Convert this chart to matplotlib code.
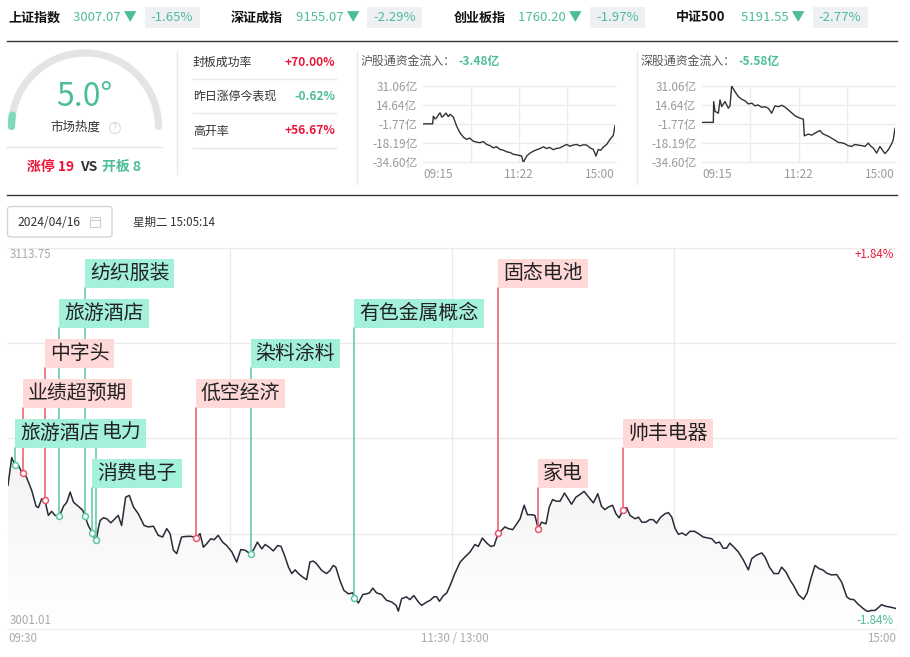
import matplotlib
matplotlib.use('Agg')
import matplotlib.pyplot as plt
import numpy as np
from matplotlib.patches import Rectangle, FancyBboxPatch, Circle
from matplotlib.colors import LinearSegmentedColormap

plt.rcParams['font.family'] = ['Noto Sans CJK SC', 'DejaVu Sans']

W, H = 910, 657
RED = '#e8173a'
GREEN = '#4cbd97'
LIGHT = '#a9a9a9'

# ---- header data ----
index_names = ['上证指数', '深证成指', '创业板指', '中证500']
index_values = [3007.07, 9155.07, 1760.20, 5191.55]
index_changes = [-1.65, -2.29, -1.97, -2.77]

heat_value = 5.0
limit_up = 19
broken = 8
stat_names = ['封板成功率', '昨日涨停今表现', '高开率']
stat_values = [70.00, -0.62, 56.67]

flow_titles = ['沪股通资金流入：', '深股通资金流入：']
flow_totals = [-3.48, -5.58]
flow_ticks = [31.06, 14.64, -1.77, -18.19, -34.60]
flow_time_labels = ['09:15', '11:22', '15:00']

sh_minutes = [0, 12.8, 13.7, 16, 18.2, 20.5, 22.6, 25, 27.0, 30.5,
              33.6, 35.9, 40.3, 44.7, 49.1, 53.6, 58.0, 62, 66.8, 71,
              75.7, 80, 84.6, 89, 93.4, 98, 102.3, 107, 111.1, 116,
              120.0, 125, 131.0, 133.2, 137.7, 142, 146.5, 151, 155.4, 160,
              164.2, 168, 173.1, 177, 181.9, 186, 190.8, 195, 199.6, 204,
              208.5, 213, 217.4, 221.8, 226.2, 229.7, 232.8, 236, 239.4, 243.9,
              248.3, 252.7, 255]
sh_flow = [-1.77, -1.77, 4.8, 2.5, 3.5, 6.0, 7.7, 4.0, 5.0, 7.5,
           4.5, 6.5, 4.0, -3.8, -9.5, -13.2, -15.2, -14.0, -16.7, -17.5,
           -18.0, -17.0, -19.5, -20.5, -22.4, -21.5, -23.8, -24.5, -25.8, -26.5,
           -28.0, -28.5, -29.5, -35.0, -29.5, -27.0, -25.3, -24.0, -23.0, -21.5,
           -23.0, -22.0, -24.0, -23.0, -22.4, -21.0, -19.5, -21.0, -20.0, -19.5,
           -20.7, -19.8, -20.0, -22.4, -23.8, -29.5, -23.8, -24.5, -21.8, -19.5,
           -15.2, -11.8, -3.48]

sz_minutes = [0, 15.0, 15.4, 17.2, 21.6, 23.8, 26.0, 30.4, 34.8, 37.0,
              39.2, 43.6, 48.0, 52.4, 57, 61.2, 66, 70.0, 74, 78.8,
              83, 87.6, 92.0, 96.4, 101, 105.3, 110, 114.1, 118, 122.9,
              128, 133.9, 135.2, 140.5, 145, 149.3, 155.9, 159, 162.5, 167,
              171.3, 176, 180.1, 184, 188.9, 193, 197.8, 202, 206.6, 211,
              215.4, 219.7, 223, 226.3, 230.8, 235.1, 238, 241.7, 246.1, 250.6,
              252.7, 255]
sz_flow = [-0.5, -0.5, 17.4, 9.0, 7.4, 18.8, 13.1, 17.4, 11.7, 13.7,
           30.8, 25.9, 21.7, 19.4, 18.0, 15.4, 16.0, 13.7, 14.5, 12.5,
           13.0, 11.7, 7.4, 13.7, 13.0, 14.2, 12.5, 10.2, 8.0, 5.1,
           3.5, 2.2, -12.1, -10.6, -11.5, -9.8, -7.5, -10.0, -11.2, -12.5,
           -14.1, -16.0, -17.8, -18.0, -18.9, -20.5, -21.2, -19.5, -20.1, -20.5,
           -21.2, -18.3, -21.0, -22.6, -26.9, -21.2, -24.0, -27.4, -24.1, -18.9,
           -15.5, -5.58]

# ---- main intraday chart data ----
trade_date = '2024/04/16'
trade_weekday_time = '星期二 15:05:14'
price_hi, price_lo = 3113.75, 3001.01
prev_close = 3057.38
main_time_labels = ['09:30', '11:30 / 13:00', '15:00']

main_minutes = [0, 1.0, 1.9, 2.8, 3.7, 5.0, 6.4, 7.6, 8.2, 9.1,
                10.0, 10.9, 11.8, 12.7, 13.9, 15.0, 15.9, 16.8, 17.7, 19.0,
                20.2, 20.8, 21.7, 22.9, 23.8, 24.4, 24.9, 25.8, 26.7, 27.8,
                28.9, 29.8, 30.7, 31.8, 32.8, 33.9, 35.2, 36.8, 37.9, 39.3,
                40.6, 41.8, 42.9, 43.8, 44.7, 45.6, 46.9, 48.3, 49.6, 50.8,
                51.9, 52.8, 53.7, 54.8, 55.7, 56.8, 58.0, 59.1, 60.5, 61.8,
                62.9, 64.1, 65.6, 66.5, 67.4, 68.6, 69.5, 70.6, 71.7, 72.9,
                73.8, 74.9, 75.8, 76.7, 77.6, 78.5, 79.6, 80.7, 81.6, 82.5,
                83.4, 84.8, 86.1, 87.0, 87.9, 88.6, 89.7, 90.8, 92.0, 93.2,
                93.6, 94.7, 95.9, 96.9, 97.7, 98.6, 99.6, 101.0, 102.3, 103.7,
                104.9, 105.5, 106.4, 107.7, 108.6, 109.7, 110.9, 111.8, 113.2, 114.1,
                115.2, 115.9, 116.6, 117.7, 118.6, 119.5, 120.8, 122.2, 123.5, 124.9,
                126.2, 127.1, 128.2, 129.4, 130.5, 131.4, 132.5, 133.4, 134.3, 135.2,
                136.4, 137.5, 138.4, 139.5, 140.4, 141.5, 142.4, 143.3, 144.2, 145.4,
                146.3, 147.2, 148.1, 149.2, 150.4, 151.4, 152.3, 153.5, 154.6, 155.7,
                156.8, 158.2, 159.4, 160.4, 161.3, 162.3, 163.4, 164.3, 165.2, 166.3,
                167.2, 168.1, 169.5, 170.4, 171.3, 172.4, 173.5, 174.4, 175.3, 176.4,
                177.6, 178.5, 179.4, 180.3, 181.2, 182.2, 183.2, 184.3, 185.5, 186.6,
                187.9, 189.3, 190.2, 191.3, 192.3, 193.3, 194.2, 195.1, 196.2, 197.4,
                198.7, 200.1, 201.0, 202.2, 203.7, 204.6, 205.8, 207.0, 208.2, 209.1,
                210.3, 211.4, 212.3, 213.6, 215.0, 216.0, 217.0, 218.1, 219.3, 220.2,
                221.3, 222.6, 224.0, 225.3, 226.7, 227.6, 228.6, 229.8, 231.2, 232.3,
                233.4, 234.3, 235.2, 236.1, 237.3, 238.4, 240]
main_price = [3043.5, 3051.7, 3049.4, 3049.4, 3047.4, 3045.9, 3042.0, 3037.3, 3036.9, 3039.5,
              3039.0, 3034.6, 3035.8, 3034.6, 3034.4, 3037.3, 3038.5, 3041.5, 3038.5, 3037.3,
              3036.1, 3034.4, 3031.6, 3029.2, 3026.7, 3030.7, 3033.1, 3033.9, 3033.6, 3032.4,
              3033.6, 3034.6, 3031.6, 3040.0, 3040.5, 3037.1, 3035.1, 3031.6, 3031.2, 3031.4,
              3028.7, 3028.2, 3030.7, 3029.2, 3024.3, 3023.3, 3028.2, 3028.4, 3028.4, 3027.9,
              3029.2, 3025.2, 3026.2, 3027.7, 3027.4, 3028.7, 3026.7, 3025.7, 3023.8, 3020.8,
              3024.5, 3024.3, 3023.1, 3024.7, 3026.7, 3024.7, 3026.0, 3025.2, 3024.1, 3025.7,
              3025.4, 3022.3, 3019.3, 3017.4, 3018.5, 3017.4, 3016.4, 3015.6, 3020.8, 3021.1,
              3020.3, 3018.3, 3017.4, 3018.3, 3019.8, 3019.3, 3015.4, 3012.4, 3011.4, 3011.7,
              3010.2, 3008.7, 3011.2, 3011.4, 3011.7, 3013.1, 3011.7, 3011.2, 3009.5, 3009.0,
              3008.0, 3006.3, 3010.0, 3010.5, 3009.7, 3010.9, 3009.0, 3008.0, 3009.0, 3009.5,
              3010.6, 3010.5, 3009.2, 3010.9, 3011.7, 3013.9, 3017.5, 3020.8, 3022.3, 3023.8,
              3026.0, 3025.4, 3027.9, 3026.4, 3025.4, 3025.7, 3029.4, 3030.2, 3031.2, 3030.7,
              3030.4, 3032.1, 3033.6, 3037.6, 3034.8, 3034.8, 3034.6, 3030.7, 3032.6, 3032.1,
              3037.1, 3039.3, 3038.8, 3038.8, 3041.2, 3039.5, 3037.9, 3040.0, 3040.8, 3041.7,
              3040.2, 3038.3, 3041.0, 3037.3, 3036.3, 3037.1, 3037.6, 3035.1, 3033.9, 3036.3,
              3036.9, 3034.6, 3033.6, 3034.1, 3032.6, 3032.6, 3033.4, 3033.3, 3032.3, 3034.1,
              3035.1, 3035.4, 3034.1, 3030.7, 3029.0, 3029.4, 3028.7, 3029.9, 3029.9, 3029.2,
              3028.2, 3027.9, 3027.7, 3026.4, 3026.7, 3024.9, 3024.9, 3026.4, 3025.2, 3023.8,
              3021.5, 3018.5, 3021.8, 3022.8, 3023.5, 3022.3, 3019.3, 3017.4, 3017.4, 3019.3,
              3017.8, 3015.4, 3013.9, 3011.2, 3009.8, 3011.7, 3015.9, 3019.8, 3018.8, 3018.5,
              3017.5, 3017.0, 3017.1, 3014.9, 3010.5, 3009.8, 3009.7, 3008.3, 3007.0, 3006.2,
              3006.5, 3006.5, 3007.3, 3008.2, 3007.7, 3007.5, 3007.07]

event_minutes = [1.9, 4.0, 9.9, 13.9, 20.8, 22.8, 23.9, 50.8, 65.6, 93.6, 132.5, 143.3, 166.3]
event_labels = ['旅游酒店', '业绩超预期', '中字头', '旅游酒店', '纺织服装', '消费电子', '电力',
                '低空经济', '染料涂料', '有色金属概念', '固态电池', '家电', '帅丰电器']
event_up = [False, True, True, False, False, False, False,
            True, False, False, True, True, True]

fig = plt.figure(figsize=(W / 100, H / 100), dpi=100)
bg = fig.add_axes([0, 0, 1, 1], zorder=0)
bg.set_xlim(0, W)
bg.set_ylim(H, 0)
bg.axis('off')


def px_axes(x0, y0, x1, y1):
    a = fig.add_axes([x0 / W, 1 - y1 / H, (x1 - x0) / W, (y1 - y0) / H], zorder=1)
    a.set_facecolor('none')
    return a


# top ticker row
for i, (name, val, chg) in enumerate(zip(index_names, index_values, index_changes)):
    x0 = 8 + 222.7 * i
    bg.text(x0, 17.5, name, fontsize=9.4, fontweight='bold', color='#111', va='center')
    bg.text(x0 + 65, 17.5, f'{val:.2f} ▼', fontsize=9.5, color=GREEN, va='center')
    bg.add_patch(Rectangle((x0 + 136.5, 7), 55, 21, fc='#eef0f3', ec='none'))
    bg.text(x0 + 164, 17.5, f'{chg:.2f}%', fontsize=9.5, color=GREEN, ha='center', va='center')
bg.plot([7, 897], [41, 41], color='#333', lw=1)
bg.plot([7, 897], [195, 195], color='#333', lw=1)

# market heat gauge
cx, cy, r = 85, 126.5, 73.5
th = np.radians(np.linspace(0, 180, 200))
bg.plot(cx + r * np.cos(th), cy - r * np.sin(th), color='#e4e4e4', lw=5.2, solid_capstyle='round')
th2 = np.radians(np.linspace(180, 180 - heat_value / 100 * 180, 20))
bg.plot(cx + r * np.cos(th2), cy - r * np.sin(th2), color='#7ddbbb', lw=5.2, solid_capstyle='round')
bg.text(84, 97, f'{heat_value:.1f}°', fontsize=23, color=GREEN, ha='center', va='center')
bg.text(75, 127.5, '市场热度', fontsize=9, color='#333', ha='center', va='center')
bg.add_patch(Circle((115, 128), 5.5, fc='none', ec='#dddddd', lw=0.8))
bg.text(115, 128, '?', fontsize=6, color='#cccccc', ha='center', va='center')
bg.plot([7, 162], [147, 147], color='#e5e5e5', lw=1)
bg.text(27, 167, f'涨停 {limit_up}', fontsize=10, fontweight='bold', color=RED, va='center')
bg.text(80, 167, 'VS', fontsize=10, fontweight='bold', color='#333', va='center')
bg.text(102, 167, f'开板 {broken}', fontsize=10, fontweight='bold', color=GREEN, va='center')

# separators
bg.plot([177, 177], [52, 174], color='#e8e8e8', lw=1)
bg.plot([357, 357], [52, 184], color='#e8e8e8', lw=1)
bg.plot([637, 637], [52, 184], color='#e8e8e8', lw=1)

# limit board stats
for k, (nm, v) in enumerate(zip(stat_names, stat_values)):
    y = 62 + 34.5 * k
    bg.text(193, y, nm, fontsize=8.6, color='#333', va='center')
    bg.text(335, y, f'{v:+.2f}%', fontsize=8.6, fontweight='bold',
            color=RED if v > 0 else GREEN, ha='right', va='center')
    bg.plot([193, 336], [y + 16.5, y + 16.5], color='#e8e8e8', lw=1)

# northbound flow mini charts
for title, total, mins, vals, (x0, x1), tx in zip(
        flow_titles, flow_totals, [sh_minutes, sz_minutes], [sh_flow, sz_flow],
        [(423, 615), (702, 895)], [361, 641]):
    bg.text(tx, 61, title, fontsize=8.6, color='#555', va='center')
    bg.text(tx + 97, 61, f'{total:.2f}亿', fontsize=8.6, fontweight='bold',
            color=GREEN if total < 0 else RED, va='center')
    a = px_axes(x0, 85.7, x1, 162)
    a.set_xlim(0, 255)
    a.set_ylim(flow_ticks[-1], flow_ticks[0])
    for v in flow_ticks:
        a.axhline(v, color='#ececec', lw=1, zorder=0, clip_on=False)
    for f in (0.25, 0.5, 0.75):
        a.axvline(255 * f, color='#ececec', lw=1, zorder=0)
    a.plot(mins, vals, color='#333', lw=1, zorder=2)
    a.set_yticks(flow_ticks, [f'{v:.2f}亿' for v in flow_ticks])
    a.set_xticks([0, 127.5, 255], flow_time_labels)
    a.tick_params(length=0, labelsize=8.5, labelcolor='#9a9a9a', pad=4)
    xl = a.get_xticklabels()
    xl[0].set_ha('left')
    xl[-1].set_ha('right')
    for s in a.spines.values():
        s.set_visible(False)

# date row
bg.add_patch(FancyBboxPatch((7.5, 206.5), 104.5, 30.5, boxstyle='round,pad=0,rounding_size=3',
                            fc='white', ec='#d4d4d4', lw=1))
bg.text(17, 222, trade_date, fontsize=8.7, color='#333', va='center')
bg.add_patch(Rectangle((90, 216.5), 10, 10, fc='none', ec='#cfcfcf', lw=0.8))
bg.plot([90, 100], [219.5, 219.5], color='#cfcfcf', lw=0.8)
bg.text(133, 222, trade_weekday_time, fontsize=8.3, color='#333', va='center')

# main intraday chart
ax = px_axes(8, 247.7, 896, 629)
for v in np.linspace(price_lo, price_hi, 5):
    ax.axhline(v, color='#ebebeb', lw=1, zorder=0, clip_on=False)
for m in (60, 120, 180):
    ax.axvline(m, color='#ebebeb', lw=1, zorder=0)
area = ax.fill_between(main_minutes, main_price, price_lo, color='none', lw=0)
shade = LinearSegmentedColormap.from_list('shade', ['#ffffff', '#f3f3f3'])
grad = ax.imshow(np.linspace(0, 1, 256).reshape(-1, 1), extent=[0, 240, price_lo, max(main_price)],
                 origin='lower', cmap=shade, aspect='auto', zorder=1)
grad.set_clip_path(area.get_paths()[0], transform=ax.transData)
ax.plot(main_minutes, main_price, color='#2a2a38', lw=1.1, zorder=2)
ax.set_xlim(0, 240)
ax.set_ylim(price_lo, price_hi)
ax.axis('off')

# corner value labels, drawn above the shaded area
pct_hi = (price_hi / prev_close - 1) * 100
pct_lo = (price_lo / prev_close - 1) * 100
corner = dict(fontsize=8.3, va='center', transform=bg.transData, zorder=8, clip_on=False)
ax.text(10, 254.5, f'{price_hi:.2f}', color=LIGHT, **corner)
ax.text(10, 620, f'{price_lo:.2f}', color=LIGHT, **corner)
ax.text(894, 254.5, f'{pct_hi:+.2f}%', color=RED, ha='right', **corner)
ax.text(894, 620, f'{pct_lo:+.2f}%', color=GREEN, ha='right', **corner)
bg.text(8, 639, main_time_labels[0], fontsize=8.3, color=LIGHT, va='center')
bg.text(455, 639, main_time_labels[1], fontsize=8.3, color=LIGHT, ha='center', va='center')
bg.text(896, 639, main_time_labels[2], fontsize=8.3, color=LIGHT, ha='right', va='center')

# event tags
fig.canvas.draw()
rend = fig.canvas.get_renderer()
px2price = (price_hi - price_lo) / ax.bbox.height
min_per_px = 240 / ax.bbox.width
for i, (t, lab, up) in enumerate(zip(event_minutes, event_labels, event_up)):
    level = (4 - i) % 6
    top = price_hi - (11.3 + 40 * level) * px2price
    bottom = top - 29 * px2price
    fc = '#ffd8d8' if up else '#a3f1db'
    lc = '#e9566c' if up else '#5cc7a4'
    p = np.interp(t, main_minutes, main_price)
    ax.plot([t, t], [bottom, p], color=lc, lw=1.1, zorder=3)
    ax.plot(t, p, 'o', ms=4.3, mfc='white', mec=lc, mew=1.1, zorder=5)
    txt = ax.text(t + 5 * min_per_px, (top + bottom) / 2, lab, fontsize=14.3,
                  color='#222', ha='left', va='center', zorder=7)
    w = txt.get_window_extent(rend).width
    ax.add_patch(Rectangle((t, bottom), (w + 10) * min_per_px, 29 * px2price,
                           fc=fc, ec='none', zorder=6))

fig.savefig('out.png', dpi=100)
